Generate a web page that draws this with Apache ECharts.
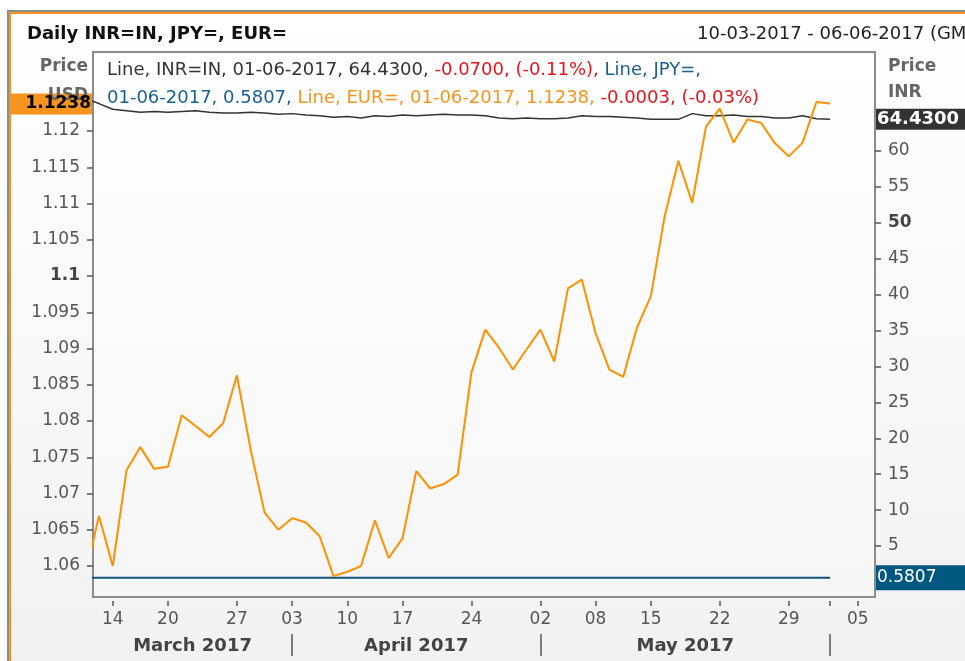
<!DOCTYPE html>
<html>
<head>
<meta charset="utf-8">
<script src="https://cdn.jsdelivr.net/npm/echarts@6/dist/echarts.min.js"></script>
<style>
  html, body { margin: 0; padding: 0; width: 965px; height: 661px; overflow: hidden; background: #fff; }
  .frame {
    position: absolute; left: 7px; top: 10px; width: 980px; height: 680px;
    border: 2px solid #8c8c8c; box-sizing: border-box;
  }
  .frame-inner {
    width: 100%; height: 100%; box-sizing: border-box;
    border-left: 2px solid #f7941d; border-top: 2px solid #f7941d;
    background: linear-gradient(#ffffff, #f1f1f1);
  }
  #chart { position: absolute; left: 0; top: 0; width: 965px; height: 661px; }
</style>
</head>
<body>
<div class="frame"><div class="frame-inner"></div></div>
<div id="chart"></div>
<script>
// trading days on the x axis (index = position)
const days = ['2017-03-10','2017-03-13','2017-03-14','2017-03-15','2017-03-16','2017-03-17',
  '2017-03-20','2017-03-21','2017-03-22','2017-03-23','2017-03-24','2017-03-27','2017-03-29',
  '2017-03-30','2017-03-31','2017-04-03','2017-04-05','2017-04-06','2017-04-07','2017-04-10',
  '2017-04-11','2017-04-12','2017-04-13','2017-04-17','2017-04-18','2017-04-19','2017-04-20',
  '2017-04-21','2017-04-24','2017-04-25','2017-04-26','2017-04-27','2017-04-28','2017-05-02',
  '2017-05-03','2017-05-04','2017-05-05','2017-05-08','2017-05-09','2017-05-11','2017-05-12',
  '2017-05-15','2017-05-16','2017-05-17','2017-05-18','2017-05-19','2017-05-22','2017-05-23',
  '2017-05-24','2017-05-25','2017-05-26','2017-05-29','2017-05-30','2017-05-31','2017-06-01',
  '2017-06-02','2017-06-05','2017-06-06'];

const eurValues = [1.0586, 1.0669, 1.0600, 1.0732, 1.0764, 1.0734, 1.0737, 1.0808, 1.0793, 1.0778,
  1.0797, 1.0863, 1.0760, 1.0674, 1.0650, 1.0666, 1.0660, 1.0641, 1.0586, 1.0592,
  1.0600, 1.0663, 1.0611, 1.0638, 1.0731, 1.0707, 1.0713, 1.0726, 1.0867, 1.0926,
  1.0901, 1.0871, 1.0899, 1.0926, 1.0882, 1.0983, 1.0995, 1.0921, 1.0871, 1.0861,
  1.0929, 1.0972, 1.1082, 1.1159, 1.1101, 1.1206, 1.1231, 1.1184, 1.1216, 1.1211,
  1.1183, 1.1165, 1.1184, 1.1240, 1.1238];

const inrValues = [67.3, 66.6, 65.8, 65.6, 65.4, 65.5, 65.4, 65.5, 65.6, 65.4,
  65.3, 65.3, 65.4, 65.3, 65.1, 65.2, 65.0, 64.9, 64.7, 64.8,
  64.6, 64.9, 64.8, 65.0, 64.9, 65.0, 65.1, 65.0, 65.0, 64.9,
  64.6, 64.5, 64.6, 64.5, 64.5, 64.6, 64.9, 64.8, 64.8, 64.7,
  64.6, 64.4, 64.4, 64.4, 65.2, 64.9, 64.9, 65.0, 64.8, 64.8,
  64.6, 64.6, 64.9, 64.5, 64.43];

const jpyValues = [0.5812, 0.5809, 0.5806, 0.5808, 0.5810, 0.5807, 0.5805, 0.5808, 0.5809, 0.5806,
  0.5807, 0.5808, 0.5806, 0.5805, 0.5807, 0.5808, 0.5806, 0.5807, 0.5809, 0.5806,
  0.5805, 0.5807, 0.5808, 0.5806, 0.5807, 0.5809, 0.5808, 0.5806, 0.5807, 0.5808,
  0.5806, 0.5805, 0.5807, 0.5808, 0.5806, 0.5807, 0.5809, 0.5808, 0.5806, 0.5807,
  0.5805, 0.5806, 0.5808, 0.5807, 0.5809, 0.5806, 0.5807, 0.5808, 0.5806, 0.5805,
  0.5807, 0.5808, 0.5806, 0.5808, 0.5807];

const dayTickDates = ['2017-03-14','2017-03-20','2017-03-27','2017-04-03','2017-04-10','2017-04-17',
  '2017-04-24','2017-05-02','2017-05-08','2017-05-15','2017-05-22','2017-05-29','2017-06-01','2017-06-05'];
const dayLabelDates = ['2017-03-14','2017-03-20','2017-03-27','2017-04-03','2017-04-10','2017-04-17',
  '2017-04-24','2017-05-02','2017-05-08','2017-05-15','2017-05-22','2017-05-29','2017-06-05'];
const monthStarts = ['2017-04-03','2017-05-02','2017-06-01'];
const monthNames = ['March 2017', 'April 2017', 'May 2017'];

const leftTicks = [1.06, 1.065, 1.07, 1.075, 1.08, 1.085, 1.09, 1.095, 1.1, 1.105, 1.11, 1.115, 1.12];
const rightTicks = [5, 10, 15, 20, 25, 30, 35, 40, 45, 50, 55, 60];

const FONT = '"DejaVu Sans", Verdana, sans-serif';
const xMin = 0.57, xMax = 57.25;

const idx = d => days.indexOf(d);
const dayTicks = dayTickDates.map(idx);
const dayLabels = dayLabelDates.map(idx);
const sepTicks = monthStarts.map(idx);
// month label sits in the middle of its span
const monthCenters = sepTicks.map((s, i) => ((i === 0 ? xMin : sepTicks[i - 1]) + s) / 2);

const toPairs = arr => arr.map((v, i) => [i, v]);

const chart = echarts.init(document.getElementById('chart'));

const axisLabelBase = { color: '#555', fontSize: 17, fontFamily: FONT };

chart.setOption({
  animation: false,
  backgroundColor: 'transparent',
  grid: {
    left: 93, right: 90, top: 52, bottom: 64,
    show: true,
    borderColor: '#8c8c8c', borderWidth: 2,
    backgroundColor: {
      type: 'linear', x: 0, y: 0, x2: 0, y2: 1,
      colorStops: [{ offset: 0, color: '#ffffff' }, { offset: 1, color: '#f6f6f6' }]
    }
  },
  xAxis: [
    {
      type: 'value', min: xMin, max: xMax,
      axisLine: { show: false }, axisTick: { show: false },
      axisLabel: { show: false }, splitLine: { show: false }
    },
    {
      // day numbers
      type: 'value', min: xMin, max: xMax, position: 'bottom', offset: 4,
      axisLine: { show: false }, splitLine: { show: false },
      axisTick: { show: true, length: 5, customValues: dayTicks, lineStyle: { color: '#555', width: 1.5 } },
      axisLabel: Object.assign({}, axisLabelBase, {
        margin: 10,
        customValues: dayLabels,
        formatter: v => days[Math.round(v)].slice(8)
      })
    },
    {
      // months
      type: 'value', min: xMin, max: xMax, position: 'bottom', offset: 37,
      axisLine: { show: false }, splitLine: { show: false },
      axisTick: { show: true, length: 22, customValues: sepTicks, lineStyle: { color: '#555', width: 1.5 } },
      axisLabel: Object.assign({}, axisLabelBase, {
        margin: 3, fontSize: 18, fontWeight: 'bold', color: '#444',
        customValues: monthCenters,
        formatter: v => monthNames[monthCenters.findIndex(c => Math.abs(c - v) < 1e-6)] || ''
      })
    }
  ],
  yAxis: [
    {
      type: 'value', position: 'left', min: 1.055724, max: 1.130897,
      axisLine: { show: false }, splitLine: { show: false },
      axisTick: { show: true, length: 6, customValues: leftTicks, lineStyle: { color: '#555', width: 1.5 } },
      axisLabel: Object.assign({}, axisLabelBase, {
        margin: 13,
        customValues: leftTicks,
        formatter: v => {
          const s = String(parseFloat(v.toFixed(3)));
          return s === '1.1' ? '{b|' + s + '}' : s;
        },
        rich: { b: { fontWeight: 'bold', color: '#444', fontSize: 17, fontFamily: FONT } }
      })
    },
    {
      type: 'value', position: 'right', min: -2.1, max: 73.78,
      axisLine: { show: false }, splitLine: { show: false },
      axisTick: { show: true, length: 6, customValues: rightTicks, lineStyle: { color: '#555', width: 1.5 } },
      axisLabel: Object.assign({}, axisLabelBase, {
        margin: 13,
        customValues: rightTicks,
        formatter: v => {
          const s = String(Math.round(v));
          return s === '50' ? '{b|' + s + '}' : s;
        },
        rich: { b: { fontWeight: 'bold', color: '#444', fontSize: 17, fontFamily: FONT } }
      })
    }
  ],
  series: [
    {
      name: 'JPY=', type: 'line', xAxisIndex: 0, yAxisIndex: 1,
      data: toPairs(jpyValues), showSymbol: false,
      lineStyle: { color: '#11557f', width: 2 }
    },
    {
      name: 'INR=IN', type: 'line', xAxisIndex: 0, yAxisIndex: 1,
      data: toPairs(inrValues), showSymbol: false,
      lineStyle: { color: '#333333', width: 1.5 }
    },
    {
      name: 'EUR=', type: 'line', xAxisIndex: 0, yAxisIndex: 0,
      data: toPairs(eurValues), showSymbol: false,
      lineStyle: { color: '#ff9000', width: 2 }
    }
  ]
});

// last-value flags on both axes
const lastEur = eurValues[eurValues.length - 1];
const lastInr = inrValues[inrValues.length - 1];
const lastJpy = jpyValues[jpyValues.length - 1];
const yEur = chart.convertToPixel({ yAxisIndex: 0 }, lastEur);
const yInr = chart.convertToPixel({ yAxisIndex: 1 }, lastInr);
const yJpy = chart.convertToPixel({ yAxisIndex: 1 }, lastJpy);

const txt = (x, y, text, style) => ({
  type: 'text', x: x, y: y, z: 100,
  style: Object.assign({ text: text, fontFamily: FONT, fontSize: 17, fill: '#333', verticalAlign: 'middle' }, style)
});

const rich = (color) => ({ fill: color, fontSize: 18, fontFamily: FONT });

chart.setOption({
  graphic: [
    txt(27, 34, 'Daily INR=IN, JPY=, EUR=', { fontWeight: 'bold', fontSize: 18, fill: '#111' }),
    txt(697, 34, '10-03-2017 - 06-06-2017 (GMT)', { fontSize: 18, fill: '#222' }),
    txt(88, 67, 'Price', { align: 'right', fontWeight: 'bold', fill: '#666' }),
    txt(88, 96, 'USD', { align: 'right', fontWeight: 'bold', fill: '#666' }),
    txt(888, 67, 'Price', { fontWeight: 'bold', fill: '#666' }),
    txt(888, 93, 'INR', { fontWeight: 'bold', fill: '#666' }),
    {
      type: 'rect', z: 99, shape: { x: 11, y: yEur - 10, width: 81, height: 21 },
      style: { fill: '#f7941d' }
    },
    txt(91, yEur + 0.5, lastEur.toFixed(4), { align: 'right', fontWeight: 'bold', fill: '#000' }),
    {
      type: 'rect', z: 99, shape: { x: 876, y: yInr - 10.5, width: 89, height: 21 },
      style: { fill: '#333333' }
    },
    txt(877, yInr + 0.5, lastInr.toFixed(4), { fontWeight: 'bold', fontSize: 18, fill: '#fff' }),
    {
      type: 'rect', z: 99, shape: { x: 876, y: yJpy - 12.5, width: 89, height: 25 },
      style: { fill: '#005780' }
    },
    txt(877, yJpy, lastJpy.toFixed(4), { fill: '#fff' }),
    {
      type: 'text', x: 107, y: 70, z: 100,
      style: {
        text: '{d|Line, INR=IN, 01-06-2017, 64.4300, }{r|-0.0700, (-0.11%),}{b| Line, JPY=,}',
        verticalAlign: 'middle',
        rich: { d: rich('#333'), r: rich('#e8141c'), b: rich('#1a6190') }
      }
    },
    {
      type: 'text', x: 107, y: 98, z: 100,
      style: {
        text: '{b|01-06-2017, 0.5807,}{o| Line, EUR=, 01-06-2017, 1.1238,}{r| -0.0003, (-0.03%)}',
        verticalAlign: 'middle',
        rich: { b: rich('#1a6190'), o: rich('#f7941d'), r: rich('#e8141c') }
      }
    }
  ]
});
</script>
</body>
</html>
